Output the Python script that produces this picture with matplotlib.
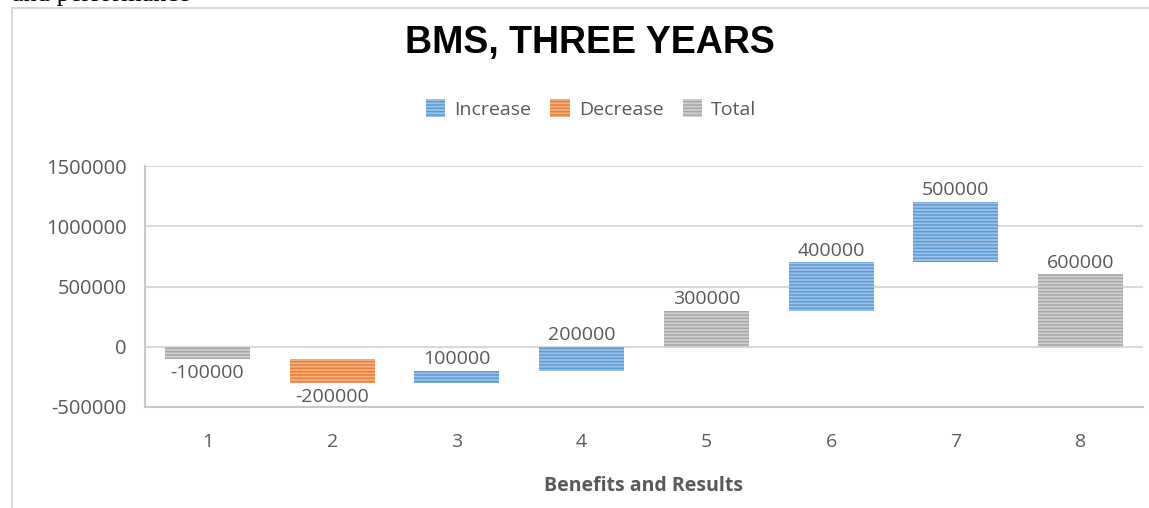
import matplotlib
matplotlib.use("Agg")
import matplotlib.pyplot as plt
from matplotlib.patches import Patch
from matplotlib.lines import Line2D

# --- data ---
steps = [1, 2, 3, 4, 5, 6, 7, 8]
values = [-100000, -200000, 100000, 200000, 300000, 400000, 500000, 600000]
kinds = ["Total", "Decrease", "Increase", "Increase", "Total", "Increase", "Increase", "Total"]
y_ticks = [-500000, 0, 500000, 1000000, 1500000]

# fill / stripe colours per kind
FACE = {"Increase": "#9dc3e6", "Decrease": "#f4b183", "Total": "#d0d0d0"}
STRIPE = {"Increase": "#5b9bd5", "Decrease": "#ed7d31", "Total": "#a5a5a5"}
TXT = "#595959"
GRID = "#d9d9d9"

plt.rcParams["font.family"] = ["Open Sans", "DejaVu Sans"]
plt.rcParams["hatch.linewidth"] = 1.1

fig = plt.figure(figsize=(11.49, 5.08), dpi=100)
W, H = 1149, 508
ax = fig.add_axes([145 / W, 1 - 407 / H, (1143 - 145) / W, (407 - 166) / H])

# waterfall: totals start at zero, steps start at the running level
running = 0
bottoms, heights = [], []
for v, k in zip(values, kinds):
    if k == "Total":
        bottoms.append(0)
        running = v
    else:
        bottoms.append(running)
        running += v
    heights.append(v)

for x, b, h, k, v in zip(steps, bottoms, heights, kinds, values):
    ax.bar(x, h, bottom=b, width=0.68, color=FACE[k], edgecolor=STRIPE[k],
           linewidth=0, hatch="-----", zorder=3)
    top = b + h
    if v >= 0:
        ax.annotate(f"{v}", (x, max(b, top)), xytext=(0, 2), textcoords="offset points",
                    ha="center", va="bottom", fontsize=14, color=TXT)
    else:
        ax.annotate(f"{v}", (x, min(b, top)), xytext=(0, -4), textcoords="offset points",
                    ha="center", va="top", fontsize=14, color=TXT)

ax.set_xlim(0.5, 8.5)
ax.set_ylim(-500000, 1500000)
ax.set_yticks(y_ticks)
ax.set_yticklabels([str(t) for t in y_ticks])
ax.set_xticks(steps)
ax.set_xticklabels([str(s) for s in steps])
ax.tick_params(axis="y", length=0, pad=13, labelsize=14.5, labelcolor=TXT)
ax.tick_params(axis="x", length=0, pad=19, labelsize=14, labelcolor=TXT)
ax.yaxis.grid(True, color=GRID, linewidth=1.5, zorder=0)
ax.set_axisbelow(True)
for s in ["top", "right"]:
    ax.spines[s].set_visible(False)
for s in ["left", "bottom"]:
    ax.spines[s].set_color("#c8c8c8")
    ax.spines[s].set_linewidth(1.5)

ax.set_xlabel("Benefits and Results", fontsize=14, fontweight="bold", color=TXT, labelpad=18)

# title and legend sit centred on the chart area, not the plot
fig.text(590 / W, 1 - 43 / H, "BMS, THREE YEARS", ha="center", va="center",
         fontsize=27, fontweight="bold", family="Liberation Sans", color="black")

handles = [Patch(facecolor=FACE[k], edgecolor=STRIPE[k], hatch="-----", linewidth=0, label=k)
           for k in ["Increase", "Decrease", "Total"]]
leg = fig.legend(handles=handles, loc="center", bbox_to_anchor=(591 / W, 1 - 109 / H),
                 ncol=3, frameon=False, fontsize=14, handlelength=1.0, handleheight=1.0,
                 handletextpad=0.45, columnspacing=1.0)
for t in leg.get_texts():
    t.set_color(TXT)

# chart border (only left and top edges show) and cut-off document text above it
fig.add_artist(Line2D([12 / W, 12 / W], [0, 1 - 8 / H], color=GRID, linewidth=1.5,
                      transform=fig.transFigure))
fig.add_artist(Line2D([12 / W, 1], [1 - 8 / H, 1 - 8 / H], color=GRID, linewidth=1.5,
                      transform=fig.transFigure))
fig.text(12 / W, 1 - 1.5 / H, "and performance", ha="left", va="baseline",
         fontsize=19, family="Liberation Serif", color="black")

fig.savefig("out.png", dpi=100)
